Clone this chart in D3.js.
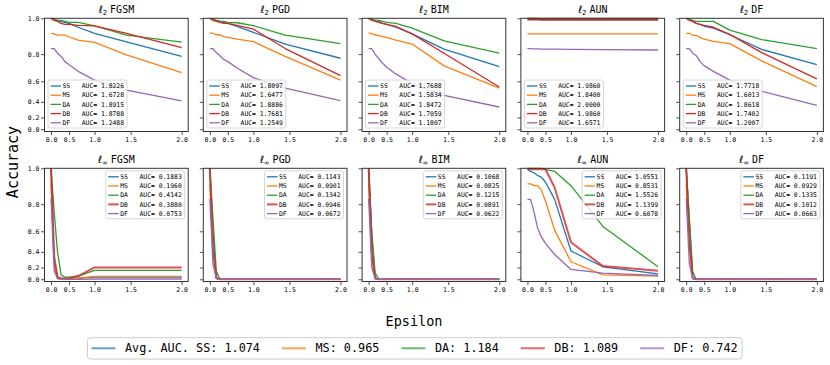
<!DOCTYPE html>
<html>
<head>
<meta charset="utf-8">
<script src="https://cdn.jsdelivr.net/npm/d3@7"></script>
<style>
  body { margin: 0; background: #fff; }
  text { font-family: "DejaVu Sans Mono", monospace; white-space: pre; }
</style>
</head>
<body>
<svg id="chart"></svg>
<script>
// data
const eps = [0, 0.1, 0.2, 0.3, 0.4, 0.5, 0.7, 1.0, 1.45, 2.0];
const methods = ['SS', 'MS', 'DA', 'DB', 'DF'];
const colors = ['#1f77b4', '#ff7f0e', '#2ca02c', '#d62728', '#9467bd'];
const attacks = ['FGSM', 'PGD', 'BIM', 'AUN', 'DF'];
const xTicks = [0, 0.5, 1.0, 1.5, 2.0];
const yTicks = [0, 0.2, 0.4, 0.6, 0.8, 1.0];

// l2 row, one array per method (SS, MS, DA, DB, DF)
const l2FGSM = [
  [1.0, 0.995, 0.99, 0.985, 0.98, 0.975, 0.955, 0.922, 0.875, 0.785],
  [0.922, 0.92, 0.913, 0.913, 0.913, 0.904, 0.885, 0.872, 0.795, 0.67],
  [1.0, 0.995, 0.99, 0.99, 0.985, 0.98, 0.98, 0.962, 0.913, 0.873],
  [1.0, 0.99, 0.985, 0.975, 0.97, 0.97, 0.965, 0.962, 0.922, 0.84],
  [0.834, 0.834, 0.806, 0.785, 0.75, 0.728, 0.68, 0.61, 0.52, 0.41]
];
const l2PGD = [
  [1.0, 0.995, 0.99, 0.985, 0.98, 0.975, 0.96, 0.928, 0.862, 0.773],
  [0.925, 0.922, 0.915, 0.915, 0.905, 0.9, 0.89, 0.876, 0.785, 0.61],
  [1.0, 0.995, 0.99, 0.985, 0.985, 0.98, 0.978, 0.963, 0.913, 0.865],
  [1.0, 0.99, 0.985, 0.98, 0.975, 0.975, 0.965, 0.945, 0.835, 0.647],
  [0.834, 0.834, 0.81, 0.79, 0.765, 0.75, 0.705, 0.63, 0.54, 0.415]
];
const l2BIM = [
  [1.0, 0.995, 0.99, 0.985, 0.975, 0.97, 0.955, 0.92, 0.832, 0.714],
  [0.925, 0.92, 0.915, 0.91, 0.905, 0.9, 0.885, 0.862, 0.72, 0.54],
  [1.0, 0.995, 0.99, 0.99, 0.985, 0.98, 0.975, 0.95, 0.88, 0.806],
  [1.0, 0.99, 0.985, 0.98, 0.975, 0.97, 0.96, 0.92, 0.806, 0.55],
  [0.834, 0.834, 0.8, 0.77, 0.74, 0.71, 0.66, 0.58, 0.47, 0.34]
];
const l2AUN = [
  [1.0, 1.0, 1.0, 0.995, 0.993, 0.993, 0.993, 0.993, 0.993, 0.993],
  [0.92, 0.92, 0.92, 0.92, 0.92, 0.92, 0.92, 0.92, 0.92, 0.92],
  [1.0, 1.0, 1.0, 1.0, 1.0, 1.0, 1.0, 1.0, 1.0, 1.0],
  [0.993, 0.993, 0.993, 0.993, 0.993, 0.993, 0.993, 0.993, 0.993, 0.993],
  [0.834, 0.834, 0.833, 0.833, 0.832, 0.832, 0.831, 0.83, 0.828, 0.826]
];
const l2DF = [
  [1.0, 0.995, 0.985, 0.975, 0.97, 0.96, 0.95, 0.915, 0.83, 0.73],
  [0.922, 0.922, 0.912, 0.912, 0.9, 0.89, 0.878, 0.865, 0.755, 0.553],
  [1.0, 0.995, 0.99, 0.985, 0.985, 0.985, 0.985, 0.94, 0.888, 0.834],
  [1.0, 0.99, 0.985, 0.975, 0.97, 0.965, 0.955, 0.917, 0.81, 0.62],
  [0.834, 0.834, 0.806, 0.79, 0.75, 0.72, 0.68, 0.61, 0.51, 0.36]
];

// l-infinity row
const liFGSM = [
  [1.0, 0.3, 0.03, 0.015, 0.01, 0.01, 0.02, 0.04, 0.04, 0.04],
  [0.922, 0.25, 0.02, 0.01, 0.01, 0.01, 0.02, 0.055, 0.055, 0.055],
  [1.0, 0.75, 0.4, 0.08, 0.04, 0.04, 0.06, 0.157, 0.157, 0.157],
  [1.0, 0.35, 0.04, 0.02, 0.01, 0.02, 0.06, 0.2, 0.2, 0.2],
  [0.834, 0.15, 0.01, 0.005, 0, 0, 0, 0.005, 0.005, 0.005]
];
const liPGD = [
  [1.0, 0.6, 0.02, 0, 0, 0, 0, 0, 0, 0],
  [0.922, 0.44, 0.02, 0, 0, 0, 0, 0, 0, 0],
  [1.0, 0.7, 0.14, 0, 0, 0, 0, 0, 0, 0],
  [1.0, 0.43, 0.03, 0, 0, 0, 0, 0, 0, 0],
  [0.834, 0.25, 0.01, 0, 0, 0, 0, 0, 0, 0]
];
const liBIM = [
  [1.0, 0.57, 0.02, 0, 0, 0, 0, 0, 0, 0],
  [0.922, 0.365, 0.01, 0, 0, 0, 0, 0, 0, 0],
  [1.0, 0.6, 0.115, 0, 0, 0, 0, 0, 0, 0],
  [1.0, 0.39, 0.02, 0, 0, 0, 0, 0, 0, 0],
  [0.834, 0.2, 0.01, 0, 0, 0, 0, 0, 0, 0]
];
const liAUN = [
  [0.995, 0.985, 0.978, 0.965, 0.955, 0.93, 0.83, 0.41, 0.21, 0.1],
  [0.92, 0.92, 0.91, 0.91, 0.885, 0.82, 0.61, 0.28, 0.08, 0.06],
  [1.0, 1.0, 1.0, 1.0, 1.0, 0.995, 0.985, 0.91, 0.64, 0.21],
  [0.995, 0.995, 0.995, 0.995, 0.995, 0.995, 0.9, 0.5, 0.22, 0.15],
  [0.83, 0.83, 0.75, 0.63, 0.55, 0.49, 0.37, 0.17, 0.11, 0.07]
];
const liDF = [
  [1.0, 0.69, 0.02, 0, 0, 0, 0, 0, 0, 0],
  [0.922, 0.47, 0.02, 0, 0, 0, 0, 0, 0, 0],
  [1.0, 0.7, 0.135, 0, 0, 0, 0, 0, 0, 0],
  [1.0, 0.5, 0.02, 0, 0, 0, 0, 0, 0, 0],
  [0.834, 0.25, 0.01, 0, 0, 0, 0, 0, 0, 0]
];

// AUC values printed in each subplot legend
const aucL2 = [
  [1.8226, 1.6728, 1.8915, 1.8788, 1.2488],
  [1.8097, 1.6477, 1.8886, 1.7681, 1.2549],
  [1.7688, 1.5834, 1.8472, 1.7059, 1.1807],
  [1.9860, 1.8400, 2.0000, 1.9860, 1.6571],
  [1.7718, 1.6013, 1.8618, 1.7402, 1.2007]
];
const aucLi = [
  [0.1883, 0.1960, 0.4142, 0.3880, 0.0753],
  [0.1143, 0.0901, 0.1342, 0.0946, 0.0672],
  [0.1068, 0.0825, 0.1215, 0.0891, 0.0622],
  [1.0551, 0.8531, 1.5526, 1.1399, 0.6078],
  [0.1191, 0.0929, 0.1335, 0.1012, 0.0663]
];
const avgAuc = [1.074, 0.965, 1.184, 1.089, 0.742];

function main() {
    var svg = d3.select('#chart').attr('width', 830).attr('height', 365)

    // both axes are warped (denser near 0)
    var warpX = function(e) { return Math.pow(2, e) - 1 }
    var warpY = function(v) { return (Math.pow(4, v) - 1) / 3 }

    var rows = [
        {sub: '2', panels: [l2FGSM, l2PGD, l2BIM, l2AUN, l2DF], auc: aucL2, top: 18.3, bottom: 131.5, lower: true},
        {sub: '∞', panels: [liFGSM, liPGD, liBIM, liAUN, liDF], auc: aucLi, top: 168.3, bottom: 281.5, lower: false}
    ]

    rows.forEach(function(row, r) {
        attacks.forEach(function(att, c) {
            var left = 44.5 + c * 158.8, right = left + 143.7
            var xScale = d3.scaleLinear().domain([-0.15, 3.15]).range([left, right])
            var yScale = d3.scaleLinear().domain([-0.02, 1]).range([row.bottom, row.top])
            var g = svg.append('g')

            // x axis
            var xAxis = g.append('g').attr('transform', `translate(0,${row.bottom})`)
                .call(d3.axisBottom(xScale)
                    .tickValues(xTicks.map(warpX))
                    .tickFormat(function(d, i) { return xTicks[i].toFixed(1) })
                    .tickSize(3.5).tickPadding(2))
            // y axis, labels only on first column
            var yAxis = g.append('g').attr('transform', `translate(${left},0)`)
                .call(d3.axisLeft(yScale)
                    .tickValues(yTicks.map(warpY))
                    .tickFormat(function(d, i) { return c === 0 ? yTicks[i].toFixed(1) : '' })
                    .tickSize(3.5).tickPadding(1.5))
            ;[xAxis, yAxis].forEach(function(a) {
                a.select('.domain').remove()
                a.attr('font-family', '"DejaVu Sans Mono", monospace').attr('font-size', 6.5)
                a.selectAll('line').attr('stroke', '#222').attr('stroke-width', 0.8)
            })

            // curves
            var line = d3.line()
                .x(function(d, i) { return xScale(warpX(eps[i])) })
                .y(function(d) { return yScale(warpY(d)) })
            row.panels[c].forEach(function(series, k) {
                var thick = (r === 1 && k === 3)
                g.append('path')
                    .attr('d', line(series))
                    .attr('fill', 'none')
                    .attr('stroke', colors[k])
                    .attr('stroke-width', thick ? 2 : 1.3)
                    .attr('stroke-opacity', thick ? 0.8 : 1)
                    .attr('stroke-linejoin', 'round')
            })

            // frame
            g.append('rect')
                .attr('x', left).attr('y', row.top)
                .attr('width', right - left).attr('height', row.bottom - row.top)
                .attr('fill', 'none').attr('stroke', '#333').attr('stroke-width', 1)

            // title
            var title = g.append('text')
                .attr('x', (left + right) / 2)
                .attr('y', row.top - 5)
                .attr('text-anchor', 'middle')
                .attr('font-size', 10)
            title.append('tspan').attr('font-family', '"DejaVu Sans"').attr('font-style', 'italic').text('ℓ')
            title.append('tspan').attr('font-family', '"DejaVu Sans"').attr('font-size', 7).attr('dy', 2).text(row.sub)
            title.append('tspan').attr('dy', -2).attr('dx', 3).text(att)

            // subplot legend
            var lw = 79, lh = 48
            var lx = row.lower ? left + 3.5 : right - 3.5 - lw
            var ly = row.lower ? row.bottom - 3.5 - lh : row.top + 2.5
            var leg = g.append('g').attr('transform', `translate(${lx},${ly})`)
            leg.append('rect')
                .attr('width', lw).attr('height', lh).attr('rx', 2)
                .attr('fill', '#fff').attr('fill-opacity', 0.8)
                .attr('stroke', '#ccc').attr('stroke-width', 0.8)
            methods.forEach(function(m, k) {
                var cy = 6 + k * 9.2
                var thick = (r === 1 && k === 3)
                leg.append('line')
                    .attr('x1', 2.5).attr('x2', 13).attr('y1', cy).attr('y2', cy)
                    .attr('stroke', colors[k])
                    .attr('stroke-width', thick ? 2 : 1.3)
                    .attr('stroke-opacity', thick ? 0.8 : 1)
                leg.append('text')
                    .attr('x', 14.5).attr('y', cy).attr('dy', '0.35em')
                    .attr('font-size', 6.4)
                    .text(m + '   AUC= ' + row.auc[c][k].toFixed(4))
            })
        })
    })

    // axis titles
    svg.append('text')
        .attr('transform', 'translate(18.3,162) rotate(-90)')
        .attr('text-anchor', 'middle')
        .attr('font-family', '"DejaVu Sans", sans-serif')
        .attr('font-size', 15)
        .text('Accuracy')
    svg.append('text')
        .attr('x', 414).attr('y', 326)
        .attr('text-anchor', 'middle')
        .attr('font-size', 13.5)
        .text('Epsilon')

    // figure legend with average AUC
    var fl = svg.append('g')
    var box = fl.append('rect')
        .attr('x', 87.4).attr('y', 337.7).attr('height', 21.3).attr('rx', 3)
        .attr('fill', '#fff').attr('stroke', '#ccc').attr('stroke-width', 1)
    var cursor = 91.5, cy = 348.3
    methods.forEach(function(m, k) {
        fl.append('line')
            .attr('x1', cursor).attr('x2', cursor + 24).attr('y1', cy).attr('y2', cy)
            .attr('stroke', colors[k]).attr('stroke-width', 2).attr('stroke-opacity', 0.7)
        var label = (k === 0 ? 'Avg. AUC. ' : '') + m + ': ' + avgAuc[k].toFixed(3)
        var t = fl.append('text')
            .attr('x', cursor + 33.5).attr('y', cy).attr('dy', '0.35em')
            .attr('font-size', 11.8)
            .text(label)
        cursor = cursor + 33.5 + t.node().getComputedTextLength() + 22
    })
    box.attr('width', cursor - 22 + 4.5 - 87.4)
}

main()
</script>
</body>
</html>
